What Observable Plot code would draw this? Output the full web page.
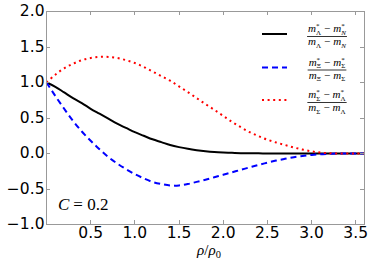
<!DOCTYPE html>
<html><head><meta charset="utf-8">
<script src="https://cdn.jsdelivr.net/npm/d3@7"></script>
<script src="https://cdn.jsdelivr.net/npm/@observablehq/plot@0.6"></script>
<style>body{margin:0;background:#fff}#chart{position:absolute;left:0;top:0}</style>
</head><body><div id="chart"></div>
<script>
// density rho/rho0
const rho = [0,0.1,0.2,0.3,0.4,0.5,0.6,0.7,0.8,0.9,1.0,1.1,1.2,1.3,1.4,1.5,1.6,1.7,1.8,1.9,2.0,2.1,2.2,2.3,2.4,2.5,2.6,2.7,2.8,2.9,3.0,3.1,3.2,3.3,3.4,3.5,3.6];
// (m*_Λ - m*_N)/(m_Λ - m_N)
const lambdaN = [1.00,0.94,0.86,0.78,0.71,0.63,0.56,0.49,0.42,0.36,0.30,0.25,0.20,0.16,0.12,0.09,0.066,0.047,0.032,0.021,0.014,0.009,0.005,0.003,0.002,0.001,0,0,0,0,0,0,0,0,0,0,0];
// (m*_Ξ - m*_Σ)/(m_Ξ - m_Σ)
const xiSigma = [1.00,0.81,0.63,0.46,0.31,0.18,0.06,-0.05,-0.14,-0.22,-0.29,-0.35,-0.40,-0.43,-0.45,-0.45,-0.43,-0.40,-0.37,-0.335,-0.30,-0.265,-0.23,-0.195,-0.16,-0.13,-0.10,-0.075,-0.052,-0.035,-0.02,-0.01,-0.005,0,0,0,0];
// (m*_Σ - m*_Λ)/(m_Σ - m_Λ)
const sigmaLambda = [1.00,1.11,1.20,1.265,1.315,1.345,1.36,1.36,1.345,1.315,1.275,1.22,1.155,1.09,1.025,0.945,0.865,0.78,0.695,0.615,0.53,0.445,0.37,0.30,0.245,0.195,0.155,0.12,0.085,0.055,0.03,0.013,0.004,0,0,0,0];
const xTicks = [0.5,1.0,1.5,2.0,2.5,3.0,3.5];
const yTicks = [-1.0,-0.5,0.0,0.5,1.0,1.5,2.0];
const seriesColors = ["black","#0000ff","#ff0000"];
const seriesDash = [null,"6,4","2,3.6"];
const seriesSubs = [["Λ","N"],["Ξ","Σ"],["Σ","Λ"]];
const annotationVar = "C";
const annotationValue = "= 0.2";

const allSeries = [lambdaN, xiSigma, sigmaLambda];
const tables = allSeries.map(vals => rho.map((r,i)=>({rho:r, v:vals[i]})));
const fmt = d => d.toFixed(1).replace("-", "\u2212");

const plot = Plot.plot({
  width: 374, height: 264,
  marginLeft: 46, marginRight: 10, marginTop: 11, marginBottom: 40,
  x: {domain: [0, 3.6]},
  y: {domain: [-1, 2]},
  style: {fontFamily: "DejaVu Sans", fontSize: "15.5px", background: "white", color: "black", overflow: "visible"},
  marks: [
    Plot.axisX({ticks: xTicks, tickSize: 0, tickPadding: 2, tickFormat: fmt, label: null}),
    Plot.axisY({ticks: yTicks, tickSize: 0, tickPadding: 2, tickFormat: fmt, label: null}),
    ...tables.map((t,i)=>Plot.line(t, {x:"rho", y:"v", stroke: seriesColors[i], strokeWidth: 2, strokeDasharray: seriesDash[i], curve: "catmull-rom", strokeLinecap: "butt"})),
    Plot.frame({stroke: "#999", strokeWidth: 1})
  ]
});
document.getElementById("chart").appendChild(plot);

const svg = d3.select(plot);
const sx = plot.scale("x"), sy = plot.scale("y");
const [xl, xr] = sx.range, [yb, yt] = sy.range;
const g = svg.append("g").attr("stroke","#999").attr("stroke-width",1);
xTicks.forEach(t => {
  const x = Math.round(sx.apply(t)) + 0.5;
  g.append("line").attr("x1",x).attr("x2",x).attr("y1",yb).attr("y2",yb-4);
  g.append("line").attr("x1",x).attr("x2",x).attr("y1",yt).attr("y2",yt+4);
});
yTicks.forEach(t => {
  const y = Math.round(sy.apply(t)) + 0.5;
  g.append("line").attr("x1",xl).attr("x2",xl+4).attr("y1",y).attr("y2",y);
  g.append("line").attr("x1",xr).attr("x2",xr-4).attr("y1",y).attr("y2",y);
});

const serif = "Liberation Serif";
// build a math line "m_a^* − m_b^*" with explicit baseline bookkeeping
function mathLine(sel, a, b, star) {
  let base = 0;
  const piece = (text, {size = null, italic = false, dx = 0, shift = 0} = {}) => {
    const t = sel.append("tspan").text(text);
    if (size) t.attr("font-size", size);
    if (italic) t.attr("font-style", "italic");
    if (dx) t.attr("dx", dx);
    const dy = shift - base;
    if (dy) t.attr("dy", dy);
    base = shift;
  };
  const term = (sub, pre) => {
    piece("m", {italic: true, dx: pre});
    if (star) {
      piece("*", {size: 7, shift: -4});
      piece(sub, {size: 7, italic: sub === "N", dx: -3.5, shift: 2.5});
    } else {
      piece(sub, {size: 7, italic: sub === "N", shift: 2.5});
    }
  };
  term(a, 0);
  piece("\u2212", {dx: 3, shift: 0});
  term(b, 3);
}
// legend
const legendYs = [34, 67.5, 100];
seriesColors.forEach((c,i) => {
  const ly = legendYs[i];
  svg.append("line").attr("x1",262).attr("x2",287).attr("y1",ly).attr("y2",ly)
    .attr("stroke",c).attr("stroke-width",2).attr("stroke-dasharray",seriesDash[i]);
  const cx = 327;
  const [a,b] = seriesSubs[i];
  const num = svg.append("text").attr("x",cx).attr("y",ly-2).attr("text-anchor","middle")
    .attr("font-family",serif).attr("font-size",11);
  mathLine(num, a, b, true);
  const den = svg.append("text").attr("x",cx).attr("y",ly+11).attr("text-anchor","middle")
    .attr("font-family",serif).attr("font-size",11);
  mathLine(den, a, b, false);
  const w = Math.max(num.node().getComputedTextLength(), den.node().getComputedTextLength()) + 1;
  svg.append("line").attr("x1",cx-w/2).attr("x2",cx+w/2).attr("y1",ly+2.5).attr("y2",ly+2.5)
    .attr("stroke","black").attr("stroke-width",0.8);
});

// annotation C = 0.2
const ann = svg.append("text").attr("x",58).attr("y",210).attr("text-anchor","start")
  .attr("font-family",serif).attr("font-size",17);
ann.append("tspan").attr("font-style","italic").text(annotationVar);
ann.append("tspan").attr("dx",4).text(annotationValue);

// x label rho/rho0
const xlab = svg.append("text").attr("x",(xl+xr)/2 + 4).attr("y",255).attr("text-anchor","middle")
  .attr("font-family",serif).attr("font-size",15);
xlab.append("tspan").attr("font-style","italic").text("\u03c1");
xlab.append("tspan").text("/");
xlab.append("tspan").attr("font-style","italic").text("\u03c1");
xlab.append("tspan").attr("font-size",10.5).attr("dy",3).text("0");
</script>
</body></html>
